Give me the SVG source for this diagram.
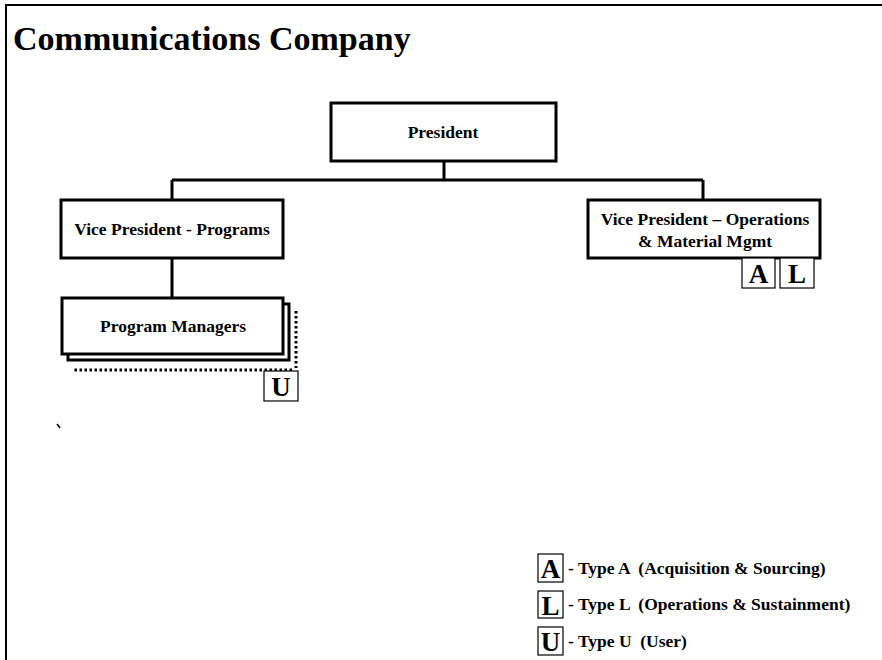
<svg xmlns="http://www.w3.org/2000/svg" width="882" height="660" viewBox="0 0 882 660">
<style>
.box{fill:#fff;stroke:#000;stroke-width:3}
.tag{fill:#fff;stroke:#000;stroke-width:1.2}
.t{font-family:"Liberation Serif","Times New Roman",serif;font-weight:bold;font-size:17.5px;fill:#000;text-anchor:middle}
.tg{font-family:"Liberation Serif","Times New Roman",serif;font-weight:bold;font-size:27px;fill:#000;text-anchor:middle}
.lg{font-family:"Liberation Serif","Times New Roman",serif;font-weight:bold;font-size:17.5px;fill:#000;white-space:pre}
.c{fill:none;stroke:#000;stroke-width:3}
.dot{fill:none;stroke:#000;stroke-width:3;stroke-dasharray:2.5 2.5}
</style>
<rect width="882" height="660" fill="#fff"/>
<path d="M6 660V5H882" fill="none" stroke="#000" stroke-width="2"/>
<text x="13" y="50" font-family="'Liberation Serif','Times New Roman',serif" font-weight="bold" font-size="34">Communications Company</text>
<g id="connectors">
<path class="c" d="M444 161V180M172 180H703M172 180V200M703 180V200M172 258V298"/>
</g>
<g id="president">
<rect class="box" x="331" y="103" width="225" height="58"/>
<text class="t" x="443" y="138">President</text>
</g>
<g id="vp-programs">
<rect class="box" x="61" y="200" width="222" height="58"/>
<text class="t" x="172" y="235">Vice President - Programs</text>
</g>
<g id="vp-operations">
<rect class="box" x="588" y="200" width="232" height="58"/>
<text class="t" x="705" y="225">Vice President – Operations</text>
<text class="t" x="705" y="247">&amp; Material Mgmt</text>
<rect class="tag" x="742" y="258" width="33" height="30"/>
<text class="tg" x="758.5" y="283">A</text>
<rect class="tag" x="780" y="258" width="34" height="30"/>
<text class="tg" x="797" y="283">L</text>
</g>
<g id="program-managers">
<path class="dot" d="M296 311V368M292 370H72"/>
<rect class="box" x="68" y="304" width="221" height="56"/>
<rect class="box" x="62" y="298" width="221" height="56"/>
<text class="t" x="173" y="332">Program Managers</text>
<rect class="tag" x="264" y="371" width="34" height="30"/>
<text class="tg" x="281" y="396">U</text>
</g>
<g id="legend">
<rect class="tag" x="538" y="554" width="25" height="28"/>
<text class="tg" x="550.5" y="578">A</text>
<text class="lg" x="568" y="574">- Type A  (Acquisition &amp; Sourcing)</text>
<rect class="tag" x="538" y="591" width="25" height="27"/>
<text class="tg" x="550.5" y="615">L</text>
<text class="lg" x="568" y="610">- Type L  (Operations &amp; Sustainment)</text>
<rect class="tag" x="538" y="627" width="25" height="28"/>
<text class="tg" x="550.5" y="651">U</text>
<text class="lg" x="568" y="647">- Type U  (User)</text>
</g>
<path d="M57 424L60 428" stroke="#000" stroke-width="1.5"/>
</svg>
